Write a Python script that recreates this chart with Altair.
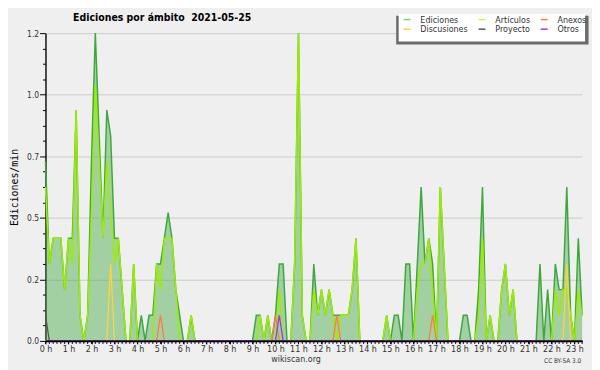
import altair as alt
import pandas as pd

# 10-minute bins, 0 = 00:00 ... 140 = 23:20
BINS = list(range(141))
HOUR_BINS = list(range(0, 141, 6))

EDICIONES = [
    0.7, 0.3, 0.4, 0.4, 0.4, 0.2, 0.4, 0.4, 0.9, 0.1,
    0.0, 0.1, 0.7, 1.2, 0.8, 0.4, 0.9, 0.8, 0.4, 0.4,
    0.2, 0.0, 0.0, 0.3, 0.0, 0.1, 0.0, 0.1, 0.1, 0.3,
    0.3, 0.4, 0.5, 0.4, 0.2, 0.1, 0.0, 0.0, 0.1, 0.0,
    0.0, 0.0, 0.0, 0.0, 0.0, 0.0, 0.0, 0.0, 0.0, 0.0,
    0.0, 0.0, 0.0, 0.0, 0.0, 0.1, 0.1, 0.0, 0.1, 0.0,
    0.1, 0.3, 0.3, 0.0, 0.0, 0.3, 1.2, 0.1, 0.0, 0.0,
    0.3, 0.1, 0.2, 0.1, 0.2, 0.1, 0.1, 0.1, 0.1, 0.1,
    0.2, 0.4, 0.0, 0.0, 0.0, 0.0, 0.0, 0.0, 0.0, 0.1,
    0.0, 0.1, 0.1, 0.0, 0.3, 0.3, 0.0, 0.3, 0.6, 0.3,
    0.4, 0.3, 0.0, 0.6, 0.3, 0.0, 0.0, 0.0, 0.0, 0.1,
    0.1, 0.0, 0.0, 0.2, 0.6, 0.0, 0.1, 0.0, 0.0, 0.2,
    0.3, 0.1, 0.2, 0.0, 0.0, 0.0, 0.0, 0.0, 0.0, 0.3,
    0.0, 0.2, 0.0, 0.3, 0.2, 0.2, 0.6, 0.1, 0.0, 0.4,
    0.1,
]

ARTICULOS = [
    0.6, 0.3, 0.4, 0.4, 0.4, 0.2, 0.4, 0.3, 0.9, 0.1,
    0.0, 0.1, 0.5, 1.0, 0.7, 0.4, 0.7, 0.5, 0.3, 0.4,
    0.2, 0.0, 0.0, 0.3, 0.0, 0.0, 0.0, 0.0, 0.0, 0.3,
    0.2, 0.4, 0.4, 0.4, 0.2, 0.0, 0.0, 0.0, 0.1, 0.0,
    0.0, 0.0, 0.0, 0.0, 0.0, 0.0, 0.0, 0.0, 0.0, 0.0,
    0.0, 0.0, 0.0, 0.0, 0.0, 0.0, 0.1, 0.0, 0.1, 0.0,
    0.0, 0.2, 0.0, 0.0, 0.0, 0.3, 1.2, 0.1, 0.0, 0.0,
    0.2, 0.1, 0.2, 0.1, 0.2, 0.1, 0.0, 0.1, 0.1, 0.1,
    0.2, 0.4, 0.0, 0.0, 0.0, 0.0, 0.0, 0.0, 0.0, 0.1,
    0.0, 0.0, 0.0, 0.0, 0.0, 0.0, 0.0, 0.2, 0.3, 0.3,
    0.4, 0.2, 0.0, 0.6, 0.3, 0.0, 0.0, 0.0, 0.0, 0.0,
    0.0, 0.0, 0.0, 0.1, 0.4, 0.0, 0.1, 0.0, 0.0, 0.2,
    0.3, 0.1, 0.2, 0.0, 0.0, 0.0, 0.0, 0.0, 0.0, 0.0,
    0.0, 0.0, 0.0, 0.2, 0.1, 0.2, 0.2, 0.1, 0.0, 0.2,
    0.1,
]

# sparse series: bin -> value (all other bins are 0)
ANEXOS = {30: 0.1, 60: 0.1, 76: 0.1, 101: 0.1}
DISCUSIONES = {17: 0.3, 136: 0.3}
PROYECTO = {0: 0.1}
OTROS = {61: 0.1}

# legend fills column by column: (Ediciones, Discusiones), (Artículos, Proyecto), (Anexos, Otros)
SERIES = ["Ediciones", "Discusiones", "Artículos", "Proyecto", "Anexos", "Otros"]
LEGEND_COLORS = ["#7fcf7f", "#ffd23c", "#ccf545", "#555555", "#ff7a45", "#9933ff"]

Y_MINOR = [round(k * 0.06, 2) for k in range(21)]

FONT = "DejaVu Sans Condensed"

main = pd.DataFrame({"bin": BINS, "Ediciones": EDICIONES, "Artículos": ARTICULOS})
minor_rows = []
for name, d in [("Anexos", ANEXOS), ("Discusiones", DISCUSIONES),
                ("Proyecto", PROYECTO), ("Otros", OTROS)]:
    for b in BINS:
        minor_rows.append({"bin": b, "serie": name, "valor": d.get(b, 0.0)})
minor = pd.DataFrame(minor_rows)
ticks_df = pd.DataFrame({"bin": BINS})

xscale = alt.Scale(domain=[0, 140], nice=False, zero=False)
yscale = alt.Scale(domain=[0, 1.2], nice=False)

major_test = "abs(datum.value/0.24 - round(datum.value/0.24)) < 0.001"

xaxis = alt.Axis(
    values=HOUR_BINS,
    labelExpr="(datum.value / 6) + ' h'",
    title=None, grid=False, tickSize=3, tickColor="black", domainColor="black",
    domainWidth=1.6,
    labelFont=FONT, labelFontSize=9, labelColor="#333333", labelPadding=1,
    labelOverlap=False, labelFlush=False, labelBound=False, zindex=1,
)
yaxis = alt.Axis(
    values=Y_MINOR,
    labelExpr=f"{major_test} ? format(datum.value, '.1f') : ''",
    tickSize={"condition": {"test": major_test, "value": 6}, "value": 3},
    gridOpacity={"condition": {"test": major_test, "value": 1}, "value": 0},
    grid=True, gridColor="#cccccc", gridWidth=1,
    tickColor="black", domainColor="black", domainWidth=1.4,
    labelFont=FONT, labelFontSize=8.5, labelColor="#333333", labelPadding=1,
    labelOverlap=False, labelFlush=False,
    title="Ediciones/min", titleFont="DejaVu Sans Mono", titleFontSize=10,
    titleFontWeight="normal", titleColor="black", titleAngle=270,
    titleX=-31, titleY=156, titleAlign="center", titleBaseline="middle",
)

X = alt.X("bin:Q", scale=xscale, axis=xaxis)

def Y(field):
    return alt.Y(field, scale=yscale, axis=yaxis)

area = alt.Chart(main).mark_area(color="#44aa44", opacity=0.45, interpolate="linear").encode(
    x=X, y=Y("Ediciones:Q"),
)
line_e = alt.Chart(main).mark_line(stroke="#3ea83e", strokeWidth=1.5).encode(
    x=X, y=Y("Ediciones:Q")
)
line_a = alt.Chart(main).mark_line(stroke="#9ded00", strokeWidth=1.5).encode(
    x=X, y=Y("Artículos:Q")
)
lines_minor = alt.Chart(minor).mark_line(strokeWidth=1.3).encode(
    x=X,
    y=Y("valor:Q"),
    color=alt.Color(
        "serie:N",
        scale=alt.Scale(domain=SERIES, range=LEGEND_COLORS),
        legend=alt.Legend(
            orient="none", legendX=362, legendY=-18.5, columns=3, title=None,
            direction="vertical",
            symbolType="stroke", symbolSize=49, symbolStrokeWidth=1.5,
            labelFont=FONT, labelFontSize=9, labelColor="#333333",
            labelOffset=9, columnPadding=7, rowPadding=0, padding=0,
            zindex=1,
        ),
    ),
)
minor_ticks = alt.Chart(ticks_df).mark_rule(color="black", strokeWidth=1).encode(
    x=X, y=alt.value(312), y2=alt.value(315)
)

one = pd.DataFrame({"k": [0]})
shadow = alt.Chart(one).mark_rect(color="#6a6a6a").encode(
    x=alt.value(355.5), x2=alt.value(550.5), y=alt.value(-17.5), y2=alt.value(11.5)
)
box = alt.Chart(one).mark_rect(color="white").encode(
    x=alt.value(358), x2=alt.value(547), y=alt.value(-19.5), y2=alt.value(8.5)
)
title = alt.Chart(one).mark_text(
    text="Ediciones por ámbito\u00a0\u00a02021-05-25", font=FONT, fontSize=10.6,
    fontWeight="bold", align="left", baseline="alphabetic", color="black",
).encode(x=alt.value(28), y=alt.value(-12.5))
site = alt.Chart(one).mark_text(
    text="wikiscan.org", font=FONT, fontSize=9, align="center",
    baseline="alphabetic", color="#333333",
).encode(x=alt.value(254), y=alt.value(333))
lic = alt.Chart(one).mark_text(
    text="CC BY-SA 3.0", font=FONT, fontSize=6.5, align="right",
    baseline="alphabetic", color="#333333",
).encode(x=alt.value(543), y=alt.value(334))

chart = alt.layer(
    area, line_e, line_a, lines_minor, minor_ticks, shadow, box, title, site, lic
).properties(
    width=544, height=312,
    autosize=alt.AutoSizeParams(type="none"),
    padding={"left": 38, "top": 23, "right": 10, "bottom": 27},
    background="#efefef",
).configure_view(stroke=None)

chart.save("out.html", embed_options={"renderer": "svg", "actions": False})
